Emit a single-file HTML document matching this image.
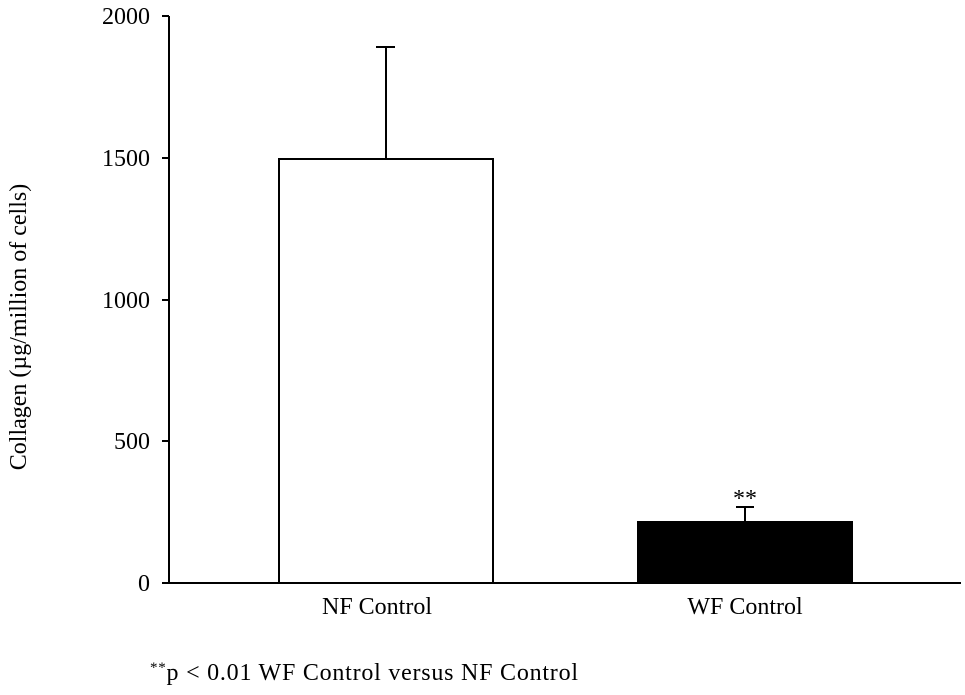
<!DOCTYPE html>
<html><head><style>body{margin:0;background:#fff}</style></head><body>
<svg width="965" height="690" xmlns="http://www.w3.org/2000/svg" font-family="Liberation Serif, serif" fill="#000">
<g stroke="#000" stroke-width="2" fill="none">
<line x1="169" y1="16" x2="169" y2="583"/>
<line x1="168" y1="583" x2="961" y2="583"/>
<line x1="162" y1="16" x2="169" y2="16"/>
<line x1="162" y1="158" x2="169" y2="158"/>
<line x1="162" y1="300" x2="169" y2="300"/>
<line x1="162" y1="441" x2="169" y2="441"/>
<line x1="162" y1="583" x2="169" y2="583"/>
<rect x="279" y="159" width="214" height="424" fill="#fff"/>
<line x1="386" y1="159" x2="386" y2="47"/>
<line x1="376" y1="47" x2="395" y2="47"/>
<line x1="745" y1="521" x2="745" y2="507"/>
<line x1="736" y1="507" x2="754" y2="507"/>
</g>
<rect x="637" y="521" width="216" height="62" fill="#000"/>
<g font-size="24" text-anchor="end">
<text x="150" y="24">2000</text>
<text x="150" y="166">1500</text>
<text x="150" y="308">1000</text>
<text x="150" y="449">500</text>
<text x="150" y="591">0</text>
</g>
<g font-size="24" text-anchor="middle">
<text x="377" y="614">NF Control</text>
<text x="745" y="614">WF Control</text>
<text x="745" y="506">**</text>
<text transform="translate(26,327) rotate(-90)">Collagen (µg/million of cells)</text>
</g>
<text x="150" y="680" font-size="24" textLength="428"><tspan font-size="15" dy="-8">**</tspan><tspan dy="8">p &lt; 0.01 WF Control versus NF Control</tspan></text>
</svg>
</body></html>
